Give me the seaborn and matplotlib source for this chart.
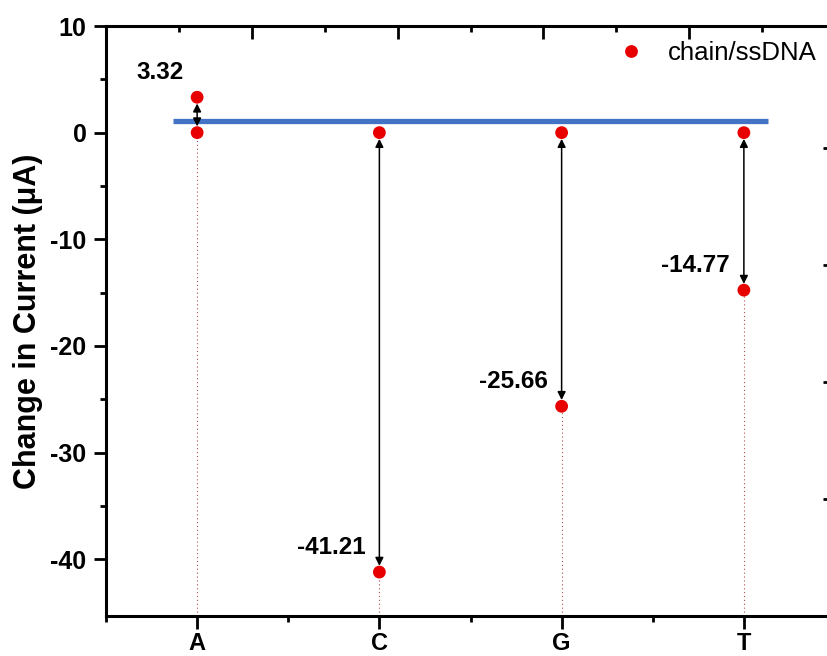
import numpy as np
import pandas as pd
import matplotlib
matplotlib.use("Agg")
import matplotlib.pyplot as plt
import seaborn as sns

# ---- data ----
categories = ["A", "C", "G", "T"]
values = [3.32, -41.21, -25.66, -14.77]
baseline = [0.0, 0.0, 0.0, 0.0]
value_labels = ["3.32", "-41.21", "-25.66", "-14.77"]
series_name = "chain/ssDNA"
ref_line_y = 1.1
ref_line_x = [0.87, 4.13]
y_limits = (-45.3, 10)
y_ticks = [10, 0, -10, -20, -30, -40]

sns.set_theme(style="ticks")
plt.rcParams["font.family"] = ["Liberation Sans", "DejaVu Sans"]
plt.rcParams.update({"text.color": "black", "axes.labelcolor": "black",
                     "xtick.color": "black", "ytick.color": "black",
                     "axes.edgecolor": "black"})

fig = plt.figure(figsize=(8.27, 6.56), dpi=100)
ax = fig.add_axes([106 / 827, 1 - 615.7 / 656, 729 / 827, (615.7 - 26) / 656])

xpos = np.arange(1, len(categories) + 1)
df = pd.DataFrame({
    "x": np.concatenate([xpos, xpos]),
    "y": np.concatenate([baseline, values]),
    "series": [series_name] * (2 * len(categories)),
})

red = "#e80000"

# reference (blue) line
ax.plot(ref_line_x, [ref_line_y, ref_line_y], color="#4472c4", lw=3.8,
        solid_capstyle="butt", zorder=2)

# dotted drop lines from lower point to the bottom axis
lower = np.minimum(baseline, values)
ax.vlines(xpos, y_limits[0], lower, colors="#b05050", linestyles=(0, (1, 2.5)),
          lw=0.8, zorder=1)

# double-headed arrows
for xi, b, v in zip(xpos, baseline, values):
    ax.annotate("", xy=(xi, v), xytext=(xi, b),
                arrowprops=dict(arrowstyle="<|-|>,head_length=0.4,head_width=0.2",
                                mutation_scale=12,
                                color="black", lw=1.1, shrinkA=4.5, shrinkB=4.5),
                zorder=4)

sns.scatterplot(data=df, x="x", y="y", hue="series", palette=[red], s=85,
                edgecolor="none", linewidth=0, ax=ax, zorder=5)

# value labels
for xi, v, lab in zip(xpos, values, value_labels):
    ax.annotate(lab, xy=(xi, v), xytext=(-10, 18), textcoords="offset points",
                ha="right", va="center", fontsize=17.5, fontweight="bold",
                color="black")

ax.set_xlim(0.5, 4.5)
ax.set_ylim(*y_limits)
ax.set_xticks(xpos)
ax.set_xticklabels(categories)
ax.set_xticks(np.arange(0.5, 4.6, 1.0), minor=True)
ax.set_yticks(y_ticks)
ax.set_yticklabels([str(t) for t in y_ticks])
ax.set_yticks(np.arange(-35, 10, 10), minor=True)
ax.set_xlabel("")
ax.set_ylabel("Change in Current (\u03bcA)", fontsize=22, fontweight="bold",
              labelpad=5, color="black")

for lab in ax.get_xticklabels() + ax.get_yticklabels():
    lab.set_fontweight("bold")
    lab.set_color("black")
ax.tick_params(axis="y", which="major", direction="out", length=9, width=2,
               labelsize=18, pad=5, color="black", labelcolor="black")
ax.tick_params(axis="x", which="major", direction="out", length=9, width=2,
               labelsize=17, pad=2.5, color="black", labelcolor="black")
ax.tick_params(axis="both", which="minor", direction="out", length=4.5, width=2,
               color="black")
for sp in ["left", "bottom", "top", "right"]:
    ax.spines[sp].set_linewidth(2.2)
    ax.spines[sp].set_color("black")
ax.spines["top"].set_visible(True)
ax.spines["right"].set_visible(True)

# secondary axes with inward ticks (top and right)
axt = ax.twiny()
axt.set_xlim(0, 5)
axt.set_xticks(np.arange(0, 5.01, 1))
axt.set_xticks(np.arange(0.5, 5, 1), minor=True)
axt.tick_params(axis="x", which="major", direction="in", length=9, width=2,
                labeltop=False, top=True, color="black")
axt.tick_params(axis="x", which="minor", direction="in", length=4.5, width=2,
                top=True, color="black")
axr = ax.twinx()
axr.set_ylim(0, 5.04)
axr.set_yticks([1, 2, 3, 4])
axr.tick_params(axis="y", which="major", direction="in", length=9, width=2,
                labelright=False, right=True, color="black")
for a in (axt, axr):
    for sp in a.spines.values():
        sp.set_visible(False)
    a.grid(False)

# legend
handles, labels = ax.get_legend_handles_labels()
leg = ax.legend(handles, labels, loc="center left",
                bbox_to_anchor=((630 - 12) / 827, 1 - 53 / 656),
                bbox_transform=fig.transFigure, frameon=False, fontsize=18.5,
                handlelength=1.0, handletextpad=0.95, borderpad=0, borderaxespad=0,
                markerscale=1.0)
for t in leg.get_texts():
    t.set_color("black")

fig.savefig("out.png", dpi=100)
